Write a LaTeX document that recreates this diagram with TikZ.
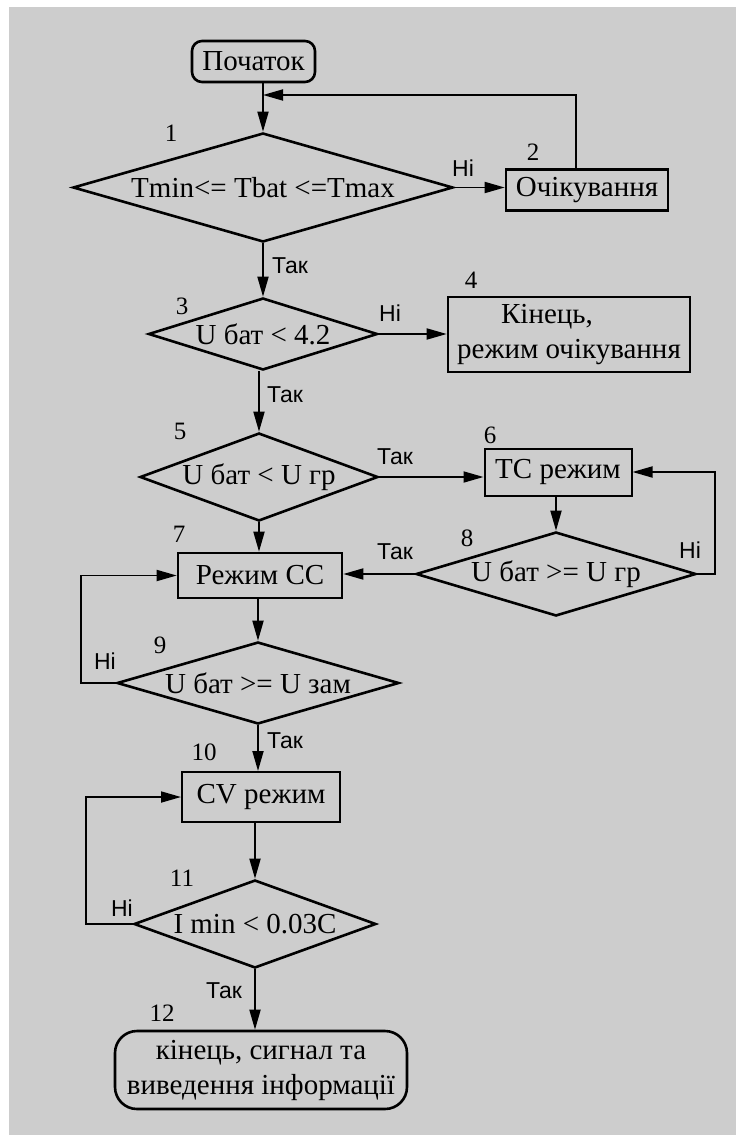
\documentclass[tikz,border=0pt]{standalone}
\usepackage{fontspec}
\setmainfont{Liberation Serif}
\newfontfamily\labelfont{Liberation Sans}
\usepackage{tikz}
\usetikzlibrary{arrows.meta, positioning, shapes.geometric}
\usepackage{xcolor}
\definecolor{sheetgray}{RGB}{205,205,205}

\begin{document}
\begin{tikzpicture}[
  x=1pt, y=-1pt,
  every node/.style={font=\fontsize{29}{35}\selectfont, inner sep=0pt},
  block/.style={draw, rectangle, line width=2.6pt, align=center},
  term/.style={block, rounded corners=10pt},
  decision/.style={draw, diamond, line width=2.6pt, inner sep=0pt},
  arrow/.style={-{Triangle[length=20pt,width=11pt]}, line width=1.8pt},
  yesno/.style={font=\labelfont\fontsize{23}{23}\selectfont},
  num/.style={font=\fontsize{25}{25}\selectfont}
]

% Sheet
\useasboundingbox (0,0) rectangle (736,1137);
\fill[sheetgray] (9,7) rectangle (736,1135);

% Nodes for the top part
\node[term, minimum width=123pt, minimum height=41pt] (start) at (253.5,61.5) {Початок};
\node[decision, minimum width=380pt, minimum height=109pt, aspect=3.49] (check) at (263,187.5) {Tmin<= Tbat <=Tmax};
\node[block, minimum width=162pt, minimum height=41pt] (wait) at (587,190) {Очікування};
\node[decision, minimum width=229pt, minimum height=72pt, aspect=3.18] (volt) at (263,334) {U бат < 4.2};
\node[block, minimum width=242pt, minimum height=75pt] (stop) at (569,334.5) {Кінець,\hspace*{44pt}\\режим очікування};

% Nodes for the TC / CC part
\node[decision, minimum width=238pt, minimum height=88pt, aspect=2.7] (low) at (259,477) {U бат < U гр};
\node[block, line width=2pt, minimum width=147pt, minimum height=47pt] (tc) at (558,472) {TC режим};
\node[decision, minimum width=280pt, minimum height=84pt, aspect=3.33] (tcchk) at (556,574) {U бат >= U гр};
\node[block, minimum width=164pt, minimum height=45pt] (cc) at (260,575.5) {Режим CC};
\node[decision, minimum width=282pt, minimum height=82pt, aspect=3.44] (ccchk) at (258,683) {U бат >= U зам};

% Nodes for the CV part
\node[block, line width=2pt, minimum width=158pt, minimum height=50pt] (cv) at (261,797) {CV режим};
\node[decision, minimum width=242pt, minimum height=88pt, aspect=2.75] (cvchk) at (255,924) {I min < 0.03C};
\node[term, rounded corners=22pt, minimum width=292pt, minimum height=78pt] (finish) at (261,1070) {кінець, сигнал та\\виведення інформації};

% Step numbers
\node[num] (n1) at (171,133) {1};
\node[num] (n2) at (533,152) {2};
\node[num] (n3) at (182,306) {3};
\node[num] (n4) at (471,280) {4};
\node[num] (n5) at (180,431) {5};
\node[num] (n6) at (490,435) {6};
\node[num] (n7) at (179,534) {7};
\node[num] (n8) at (467,538) {8};
\node[num] (n9) at (160,645) {9};
\node[num] (n10) at (204,752) {10};
\node[num] (n11) at (182,878) {11};
\node[num] (n12) at (162,1013) {12};

% Branch labels
\node[yesno] (no1) at (463,168) {Ні};
\node[yesno] (yes1) at (290,266) {Так};
\node[yesno] (no3) at (390,313) {Ні};
\node[yesno] (yes3) at (285,395) {Так};
\node[yesno] (yes5) at (395,457) {Так};
\node[yesno] (yes8) at (395,552) {Так};
\node[yesno] (no8) at (690,550) {Ні};
\node[yesno] (no9) at (105,661) {Ні};
\node[yesno] (yes9) at (285,741) {Так};
\node[yesno] (no11) at (122,908) {Ні};
\node[yesno] (yes11) at (224,991) {Так};

% Arrows of the main column
\coordinate (join) at (263,95);
\draw[arrow] (check.north |- start.south) -- (check.north);
\draw[arrow] (check.south) -- (volt.north);
\draw[arrow] (low.north |- volt.south) -- (low.north);
\draw[arrow] (low.south) -- (low.south |- cc.north);
\draw[arrow] (ccchk.north |- cc.south) -- (ccchk.north);
\draw[arrow] (ccchk.south) -- (ccchk.south |- cv.north);
\draw[arrow] (cvchk.north |- cv.south) -- (cvchk.north);
\draw[arrow] (cvchk.south) -- (cvchk.south |- finish.north);

% Side branches
\draw[arrow] (check.east) -- (check.east -| wait.west);
\draw[arrow] ([xshift=-11pt]wait.north) |- (join);
\draw[arrow] (volt.east) -- (volt.east -| stop.west);
\draw[arrow] (low.east) -- (low.east -| tc.west);
\draw[arrow] (tcchk.north |- tc.south) -- (tcchk.north);
\draw[arrow] (tcchk.east) -- ++(18,0) |- (tc.east);
\draw[arrow] (tcchk.west) -- (tcchk.west -| cc.east);

% Loops back
\draw[arrow] (ccchk.west) -- ++(-35,0) |- (cc.west);
\draw[arrow] (cvchk.west) -- ++(-47,0) |- (cv.west);

\end{tikzpicture}
\end{document}
